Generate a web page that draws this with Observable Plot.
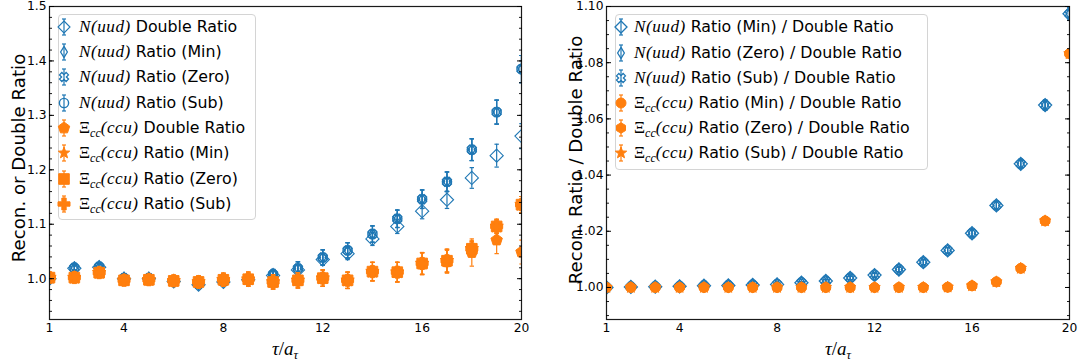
<!DOCTYPE html>
<html><head><meta charset="utf-8">
<script src="https://cdn.jsdelivr.net/npm/d3@7"></script>
<script src="https://cdn.jsdelivr.net/npm/@observablehq/plot@0.6"></script>
<style>
body{margin:0;background:#fff;font-family:"DejaVu Sans",sans-serif;color:#000;}
#wrap{position:relative;width:1086px;height:363px;overflow:hidden;}
.panel{position:absolute;top:0;}
.legend{position:absolute;border:1px solid #d4d4d4;border-radius:4px;background:rgba(255,255,255,0.8);box-sizing:border-box;}
.row{position:absolute;height:24px;display:flex;align-items:center;white-space:nowrap;font-size:15.8px;}
.row svg{position:absolute;}
.m{font-family:"Liberation Serif",serif;font-style:italic;font-size:17.2px;letter-spacing:0.5px;}
.u{font-family:"Liberation Serif",serif;font-size:17.2px;}
.sub{font-family:"Liberation Serif",serif;font-style:italic;font-size:12px;position:relative;top:4px;}
.ylab{position:absolute;font-size:18.2px;white-space:nowrap;transform:translate(-50%,-50%) rotate(-90deg);}
.xlab{position:absolute;font-family:"Liberation Serif",serif;font-style:italic;font-size:19px;white-space:nowrap;transform:translate(-50%,-50%);}
</style></head>
<body><div id="wrap"></div>
<script>
// ---------------- data ----------------
const tau = [1,2,3,4,5,6,7,8,9,10,11,12,13,14,15,16,17,18,19,20];
const xTicks = [1,4,8,12,16,20];
const leftYTicks = [1.0,1.1,1.2,1.3,1.4,1.5];
const rightYTicks = [1.00,1.02,1.04,1.06,1.08,1.10];

// left panel: N(uud)
const nuDouble    = [1.000,1.019,1.021,1.000,1.000,0.995,0.989,0.994,0.998,1.006,1.016,1.035,1.046,1.073,1.096,1.124,1.145,1.185,1.226,1.262];
const nuDoubleErr = [0.002,0.004,0.004,0.004,0.004,0.005,0.005,0.006,0.007,0.008,0.009,0.010,0.011,0.012,0.013,0.014,0.016,0.019,0.021,0.023];
const nuRatioMin  = [1.000,1.020,1.022,1.001,1.001,0.996,0.990,0.995,0.999,1.008,1.019,1.039,1.052,1.082,1.110,1.146,1.178,1.237,1.306,1.385];
const nuRatioZero = [1.000,1.020,1.022,1.001,1.001,0.996,0.990,0.995,0.999,1.008,1.019,1.039,1.052,1.082,1.110,1.146,1.178,1.237,1.306,1.385];
const nuRatioSub  = [1.000,1.020,1.022,1.001,1.001,0.996,0.990,0.995,0.999,1.008,1.019,1.039,1.052,1.082,1.110,1.146,1.178,1.237,1.306,1.385];
const nuRatioErr  = [0.002,0.004,0.004,0.004,0.004,0.005,0.006,0.006,0.007,0.009,0.012,0.014,0.014,0.015,0.016,0.017,0.018,0.020,0.022,0.025];
// left panel: Xi_cc(ccu)
const xiDouble    = [1.002,1.002,1.011,0.997,0.998,0.996,0.994,0.998,0.999,0.994,0.997,1.001,0.997,1.013,1.012,1.027,1.031,1.048,1.071,1.049];
const xiDoubleErr = [0.005,0.006,0.008,0.008,0.009,0.010,0.011,0.012,0.013,0.013,0.014,0.015,0.015,0.017,0.018,0.020,0.021,0.025,0.025,0.022];
const xiRatioMin  = [1.002,1.002,1.011,0.997,0.998,0.996,0.994,0.998,0.999,0.994,0.997,1.001,0.997,1.013,1.012,1.028,1.033,1.055,1.096,1.136];
const xiRatioZero = [1.002,1.002,1.011,0.997,0.998,0.996,0.994,0.998,0.999,0.994,0.997,1.001,0.997,1.013,1.012,1.028,1.033,1.055,1.096,1.136];
const xiRatioSub  = [1.002,1.002,1.011,0.997,0.998,0.996,0.994,0.998,0.999,0.994,0.997,1.001,0.997,1.013,1.012,1.028,1.033,1.055,1.096,1.136];
const xiRatioErr  = [0.005,0.006,0.008,0.008,0.009,0.010,0.011,0.012,0.013,0.013,0.014,0.015,0.015,0.017,0.018,0.020,0.021,0.014,0.013,0.015];

// right panel: ratio / double ratio
const rrNuMin   = [1.0000,1.0002,1.0003,1.0004,1.0006,1.0007,1.0009,1.0011,1.0017,1.0023,1.0034,1.0044,1.0064,1.0090,1.0132,1.0193,1.0292,1.0440,1.0649,1.0974];
const rrNuZero  = [1.0000,1.0002,1.0003,1.0004,1.0006,1.0007,1.0009,1.0011,1.0017,1.0023,1.0034,1.0044,1.0064,1.0090,1.0132,1.0193,1.0292,1.0440,1.0649,1.0974];
const rrNuSub   = [1.0000,1.0002,1.0003,1.0004,1.0006,1.0007,1.0009,1.0011,1.0017,1.0023,1.0034,1.0044,1.0064,1.0090,1.0132,1.0193,1.0292,1.0440,1.0649,1.0974];
const rrNuErr   = [0.0001,0.0002,0.0002,0.0002,0.0003,0.0003,0.0003,0.0004,0.0004,0.0005,0.0006,0.0007,0.0008,0.0009,0.0010,0.0012,0.0014,0.0016,0.0018,0.0022];
const rrXiMin   = [1.0000,1.0000,1.0000,1.0000,1.0000,1.0000,1.0000,1.0000,1.0000,1.0000,1.0000,1.0000,1.0000,1.0000,1.0001,1.0006,1.0020,1.0068,1.0237,1.0832];
const rrXiZero  = [1.0000,1.0000,1.0000,1.0000,1.0000,1.0000,1.0000,1.0000,1.0000,1.0000,1.0000,1.0000,1.0000,1.0000,1.0001,1.0006,1.0020,1.0068,1.0237,1.0832];
const rrXiSub   = [1.0000,1.0000,1.0000,1.0000,1.0000,1.0000,1.0000,1.0000,1.0000,1.0000,1.0000,1.0000,1.0000,1.0000,1.0001,1.0006,1.0020,1.0068,1.0237,1.0832];
const rrXiErr   = [0.0001,0.0001,0.0001,0.0001,0.0001,0.0001,0.0001,0.0001,0.0001,0.0001,0.0001,0.0001,0.0001,0.0001,0.0002,0.0002,0.0003,0.0004,0.0005,0.0007];

// ---------------- symbols ----------------
const BLUE = "#1f77b4", ORANGE = "#ff7f0e";
function poly(pts){return {draw(ctx,size){const r=Math.sqrt(size/Math.PI);pts.forEach(([x,y],i)=>i?ctx.lineTo(x*r,y*r):ctx.moveTo(x*r,y*r));ctx.closePath();}};}
const ring = {draw(ctx,size){const r=Math.sqrt(size/Math.PI);ctx.moveTo(r,0);ctx.arc(0,0,r,0,2*Math.PI);ctx.closePath();}};
const cap = {draw(ctx,size){const r=Math.sqrt(size/Math.PI);ctx.moveTo(-r,0);ctx.lineTo(r,0);}};
const ngon=(n,rot)=>d3.range(n).map(k=>{const a=(rot+360*k/n)*Math.PI/180;return [Math.cos(a),Math.sin(a)];});
const diamond = poly([[0,-1],[1,0],[0,1],[-1,0]]);
const thinDiamond = poly([[0,-1],[0.6,0],[0,1],[-0.6,0]]);
const square = poly([[-1,-1],[1,-1],[1,1],[-1,1]]);
const pentagon = poly(ngon(5,-90));
const hexagon = poly(ngon(6,-90));
const star = poly(d3.range(10).map(k=>{const a=(-90+36*k)*Math.PI/180,rr=k%2?0.42:1;return [rr*Math.cos(a),rr*Math.sin(a)];}));
const A=0.36;
const plusPts=[[A,-1],[A,-A],[1,-A],[1,A],[A,A],[A,1],[-A,1],[-A,A],[-1,A],[-1,-A],[-A,-A],[-A,-1]];
const plus = poly(plusPts);
const xShape = poly(plusPts.map(([x,y])=>[(x-y)/Math.SQRT2/0.98,(x+y)/Math.SQRT2/0.98]));

// ---------------- series ----------------
const rows = (ys,es)=>tau.map((t,i)=>({x:t,y:ys[i],e:es[i]}));
const leftSeries = [
  {d:rows(nuDouble,nuDoubleErr), sym:diamond, r:6.6, color:BLUE, open:true, sw:1.1, math:"N", label:"Double Ratio"},
  {d:rows(nuRatioMin,nuRatioErr), sym:thinDiamond, r:5.6, color:BLUE, open:true, sw:1.3, math:"N", label:"Ratio (Min)"},
  {d:rows(nuRatioZero,nuRatioErr), sym:xShape, r:4.6, color:BLUE, open:true, sw:1.3, math:"N", label:"Ratio (Zero)"},
  {d:rows(nuRatioSub,nuRatioErr), sym:ring, r:4.6, color:BLUE, open:true, sw:1.4, math:"N", label:"Ratio (Sub)"},
  {d:rows(xiDouble,xiDoubleErr), sym:pentagon, r:6, color:ORANGE, open:false, sw:1, math:"X", label:"Double Ratio"},
  {d:rows(xiRatioMin,xiRatioErr), sym:star, r:7, color:ORANGE, open:false, sw:1, math:"X", label:"Ratio (Min)"},
  {d:rows(xiRatioZero,xiRatioErr), sym:square, r:5.3, color:ORANGE, open:false, sw:1, math:"X", label:"Ratio (Zero)"},
  {d:rows(xiRatioSub,xiRatioErr), sym:plus, r:6, color:ORANGE, open:false, sw:1, math:"X", label:"Ratio (Sub)"}
];
const rightSeries = [
  {d:rows(rrNuMin,rrNuErr), sym:diamond, r:6.5, color:BLUE, open:true, sw:1.3, math:"N", label:"Ratio (Min) / Double Ratio"},
  {d:rows(rrNuZero,rrNuErr), sym:thinDiamond, r:5.6, color:BLUE, open:true, sw:1.3, math:"N", label:"Ratio (Zero) / Double Ratio"},
  {d:rows(rrNuSub,rrNuErr), sym:xShape, r:4.6, color:BLUE, open:true, sw:1.3, math:"N", label:"Ratio (Sub) / Double Ratio"},
  {d:rows(rrXiMin,rrXiErr), sym:ring, r:5, color:ORANGE, open:false, sw:1, math:"X", label:"Ratio (Min) / Double Ratio"},
  {d:rows(rrXiZero,rrXiErr), sym:hexagon, r:5.2, color:ORANGE, open:false, sw:1, math:"X", label:"Ratio (Zero) / Double Ratio"},
  {d:rows(rrXiSub,rrXiErr), sym:star, r:6, color:ORANGE, open:false, sw:1, math:"X", label:"Ratio (Sub) / Double Ratio"}
];

function seriesMarks(s){
  const c={clip:true};
  return [
    Plot.ruleX(s.d,{x:"x",y1:d=>d.y-d.e,y2:d=>d.y+d.e,stroke:s.color,strokeWidth:1.2,...c}),
    Plot.dot(s.d,{x:"x",y:d=>d.y-d.e,symbol:cap,r:2.2,stroke:s.color,fill:"none",strokeWidth:1.2,...c}),
    Plot.dot(s.d,{x:"x",y:d=>d.y+d.e,symbol:cap,r:2.2,stroke:s.color,fill:"none",strokeWidth:1.2,...c}),
    Plot.dot(s.d,{x:"x",y:"y",symbol:s.sym,r:s.r,stroke:s.color,fill:s.open?"none":s.color,strokeWidth:s.sw,...c})
  ];
}

function minorTicks(lo,hi,step){const out=[];for(let v=Math.ceil(lo/step-1e-9);v*step<=hi+1e-9;v++)out.push(+(v*step).toFixed(5));return out;}

function panel({yDomain,yMajor,yMinor,fmt,ml,mr,series}){
  return Plot.plot({
    width:543,height:363,marginLeft:ml,marginRight:mr,marginTop:6,marginBottom:44,
    x:{domain:[1,20]},y:{domain:yDomain},
    style:{fontFamily:"DejaVu Sans",fontSize:"12.3px",color:"#000",background:"transparent",overflow:"visible"},
    marks:[
      ...series.flatMap(seriesMarks),
      Plot.frame({stroke:"#1a1a1a",strokeWidth:1.2}),
      Plot.axisY(yMinor,{anchor:"left",tickSize:-3,tickFormat:()=>"",label:null,strokeWidth:0.9}),
      Plot.axisY(yMinor,{anchor:"right",tickSize:-3,tickFormat:()=>"",label:null,strokeWidth:0.9}),
      Plot.axisY(yMajor,{anchor:"left",tickSize:-5,tickFormat:()=>"",label:null,strokeWidth:1}),
      Plot.axisY(yMajor,{anchor:"right",tickSize:-5,tickFormat:()=>"",label:null,strokeWidth:1}),
      Plot.axisY(yMajor,{anchor:"left",tickSize:0,tickPadding:3,tickFormat:fmt,label:null}),
      Plot.axisX(xTicks,{anchor:"bottom",tickSize:0,tickPadding:4,label:null})
    ]
  });
}

const wrap=document.getElementById("wrap");
const p1=panel({yDomain:[0.925,1.5],yMajor:leftYTicks,yMinor:minorTicks(0.925,1.5,0.02),fmt:d3.format(".1f"),ml:49,mr:22,series:leftSeries});
const p2=panel({yDomain:[0.9886,1.1],yMajor:rightYTicks,yMinor:minorTicks(0.9886,1.1,0.005),fmt:d3.format(".2f"),ml:63,mr:17,series:rightSeries});
const d1=document.createElement("div");d1.className="panel";d1.style.left="0px";d1.appendChild(p1);wrap.appendChild(d1);
const d2=document.createElement("div");d2.className="panel";d2.style.left="543px";d2.appendChild(p2);wrap.appendChild(d2);

// axis labels
function addEl(cls,html,x,y){const e=document.createElement("div");e.className=cls;e.innerHTML=html;e.style.left=x+"px";e.style.top=y+"px";wrap.appendChild(e);}
addEl("ylab","Recon. or Double Ratio",18,158);
addEl("ylab","Recon. Ratio / Double Ratio",575,160);
const xl='τ<span style="font-style:normal">/</span>a<span class="sub" style="font-size:12.5px">τ</span>';
addEl("xlab",xl,285,349);
addEl("xlab",xl,838,349);

// legends
function mathHTML(k){
  return k==="N" ? '<span class="m">N(uud)</span>'
    : '<span class="u">Ξ</span><span class="sub">cc</span><span class="m">(ccu)</span>';
}
function legend(series,box){
  const L=document.createElement("div");L.className="legend";
  Object.assign(L.style,{left:box.x+"px",top:box.y+"px",width:box.w+"px",height:box.h+"px"});
  series.forEach((s,i)=>{
    const row=document.createElement("div");row.className="row";
    const cy=box.r0+box.step*i-box.y-1;
    row.style.top=(cy-12)+"px";row.style.left="0px";
    const svg=d3.create("svg").attr("width",20).attr("height",24).style("left",(box.mx-box.x-1-10)+"px").style("top","0px");
    svg.append("line").attr("x1",10).attr("x2",10).attr("y1",4).attr("y2",20).attr("stroke",s.color).attr("stroke-width",1.2);
    [4,20].forEach(y=>svg.append("line").attr("x1",8).attr("x2",12).attr("y1",y).attr("y2",y).attr("stroke",s.color).attr("stroke-width",1.2));
    const p=d3.path();const rr=Math.min(s.r,6);s.sym.draw(p,rr*rr*Math.PI);
    svg.append("path").attr("d",p.toString()).attr("transform","translate(10,12)").attr("fill",s.open?"none":s.color).attr("stroke",s.color).attr("stroke-width",s.sw);
    row.appendChild(svg.node());
    const t=document.createElement("span");t.style.position="absolute";t.style.left=(box.tx-box.x-1)+"px";
    t.innerHTML=mathHTML(s.math)+' '+s.label;
    row.appendChild(t);
    L.appendChild(row);
  });
  wrap.appendChild(L);
}
legend(leftSeries,{x:58,y:14,w:198,h:206,r0:26.7,step:25.3,mx:63.5,tx:79});
legend(rightSeries,{x:615,y:14,w:313,h:156,r0:27.3,step:25.2,mx:621,tx:634});
</script></body></html>
